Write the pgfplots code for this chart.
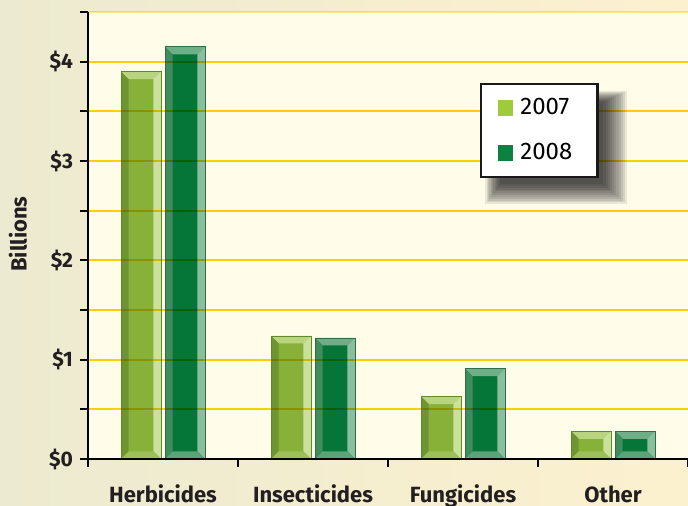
\documentclass[border=0pt]{standalone}
\usepackage{pgfplots}
\pgfplotsset{compat=1.18}
\usepackage{fontspec}
\setmainfont{Fira Sans}
\usetikzlibrary{shadows}
\definecolor{bgL}{HTML}{ECEAD0}
\definecolor{bgR}{HTML}{FCF1CF}
\definecolor{plotbg}{HTML}{FFFCEA}
\definecolor{gridy}{HTML}{FFD200}
\definecolor{gridtop}{HTML}{FBEA8E}
\definecolor{txt}{HTML}{231F20}
\definecolor{aMain}{HTML}{88B13A}
\definecolor{aTop}{HTML}{B8D47F}
\definecolor{aRight}{HTML}{C9E19C}
\definecolor{aLeft}{HTML}{6E9532}
\definecolor{aBot}{HTML}{9EC05A}
\definecolor{aEdge}{HTML}{5F8A2A}
\definecolor{bMain}{HTML}{067638}
\definecolor{bTop}{HTML}{6FAF88}
\definecolor{bRight}{HTML}{8ABF9E}
\definecolor{bLeft}{HTML}{3F8C5C}
\definecolor{bBot}{HTML}{5AA478}
\definecolor{bEdge}{HTML}{2F6E48}
\definecolor{legA}{HTML}{9DCB3C}
\definecolor{legB}{HTML}{0E8040}
\makeatletter
\tikzset{nopre/.code={\let\tikz@preactions\pgfutil@empty}}
\makeatother
\newif\ifbevelin
\tikzset{
  bevel/.style n args={6}{
    fill=#1, draw=#6, line width=0.3pt,
    path picture={\ifbevelin\else\global\bevelintrue
      \fill[#2, draw=none] (path picture bounding box.north west) -- (path picture bounding box.north east)
        -- ([shift={(-3.8pt,-3.8pt)}]path picture bounding box.north east)
        -- ([shift={(3.8pt,-3.8pt)}]path picture bounding box.north west) -- cycle;
      \fill[#4, draw=none] (path picture bounding box.north west) -- (path picture bounding box.south west)
        -- ([shift={(3.8pt,3.8pt)}]path picture bounding box.south west)
        -- ([shift={(3.8pt,-3.8pt)}]path picture bounding box.north west) -- cycle;
      \fill[#3, draw=none] (path picture bounding box.north east) -- (path picture bounding box.south east)
        -- ([shift={(-3.8pt,3.8pt)}]path picture bounding box.south east)
        -- ([shift={(-3.8pt,-3.8pt)}]path picture bounding box.north east) -- cycle;
      \fill[#5, draw=none] (path picture bounding box.south west) -- (path picture bounding box.south east)
        -- ([shift={(-3.8pt,3.8pt)}]path picture bounding box.south east)
        -- ([shift={(3.8pt,3.8pt)}]path picture bounding box.south west) -- cycle;
      \global\bevelinfalse\fi
    }
  },
  sh/.style={drop shadow={shadow xshift=7pt, shadow yshift=-7pt, shadow scale=#1, opacity=0.085, fill=black}}
}
\pgfplotsset{
  s07/.style={bar shift=-11pt, bevel={aMain}{aTop}{aRight}{aLeft}{aBot}{aEdge}, forget plot},
  s08/.style={bar shift=11pt, bevel={bMain}{bTop}{bRight}{bLeft}{bBot}{bEdge}, forget plot},
}
\begin{document}
\begin{tikzpicture}
\shade[left color=bgL, right color=bgR] (0,0) rectangle (344pt,253pt);
\useasboundingbox (0,0) rectangle (344pt,253pt);
\begin{axis}[
  at={(44pt,23.5pt)}, anchor=south west,
  scale only axis, width=300pt, height=223.5pt,
  xmin=-0.5, xmax=3.5, ymin=0, ymax=4.5,
  axis x line*=bottom, axis y line*=left,
  axis line style={black, line width=1pt},
  axis background/.style={fill=plotbg},
  axis on top,
  ybar, bar width=20pt,
  xtick={-0.5,0.5,1.5,2.5,3.5},
  x tick label as interval,
  xticklabels={Herbicides,Insecticides,Fungicides,Other},
  ytick={0,0.5,1,1.5,2,2.5,3,3.5,4},
  yticklabels={\$0,,\$1,,\$2,,\$3,,\$4},
  extra y ticks={4.5}, extra y tick labels={},
  extra y tick style={grid style={gridtop, line width=1pt}},
  tick align=outside, major tick length=4pt,
  tick style={black, line width=1pt},
  ymajorgrids, grid style={gridy, line width=1pt, blend mode=multiply},
  xticklabel style={font=\fontsize{11}{13}\selectfont\bfseries, text=txt, anchor=base, yshift=-18pt},
  yticklabel style={font=\fontsize{10.5}{12}\selectfont\bfseries, text=txt},
  ylabel={Billions},
  every axis y label/.style={at={(axis description cs:-0.117,0.503)}, rotate=90, anchor=center, font=\fontsize{11}{13}\selectfont\bfseries, text=txt},
  legend style={at={(0.653,0.841)}, anchor=north west, draw=black!90, line width=1.2pt, fill=white,
    font=\fontsize{12}{14}\selectfont,
    sh=1.22, sh=1.19, sh=1.16, sh=1.13, sh=1.10, sh=1.07, sh=1.04, sh=1.01, sh=0.98, sh=0.95, sh=0.92, sh=0.89,
    inner xsep=6pt, inner ysep=5pt, row sep=9pt, legend cell align=left},
]
\addplot[s07] coordinates {(0,3.90)};
\addplot[s07] coordinates {(1,1.24)};
\addplot[s07] coordinates {(2,0.63)};
\addplot[s07] coordinates {(3,0.28)};
\addplot[s08] coordinates {(0,4.15)};
\addplot[s08] coordinates {(1,1.22)};
\addplot[s08] coordinates {(2,0.91)};
\addplot[s08] coordinates {(3,0.28)};
\addlegendimage{legend image code/.code={\fill[nopre, legA] (2.5pt,-3.3pt) rectangle (9pt,3.3pt); \path[nopre] (0pt,0pt) (10.5pt,0pt);}}
\addlegendentry{\makebox[30.5pt][l]{2007}}
\addlegendimage{legend image code/.code={\fill[nopre, legB] (2.5pt,-3.3pt) rectangle (9pt,3.3pt); \path[nopre] (0pt,0pt) (10.5pt,0pt);}}
\addlegendentry{\makebox[30.5pt][l]{2008}}
\end{axis}
\end{tikzpicture}
\end{document}
